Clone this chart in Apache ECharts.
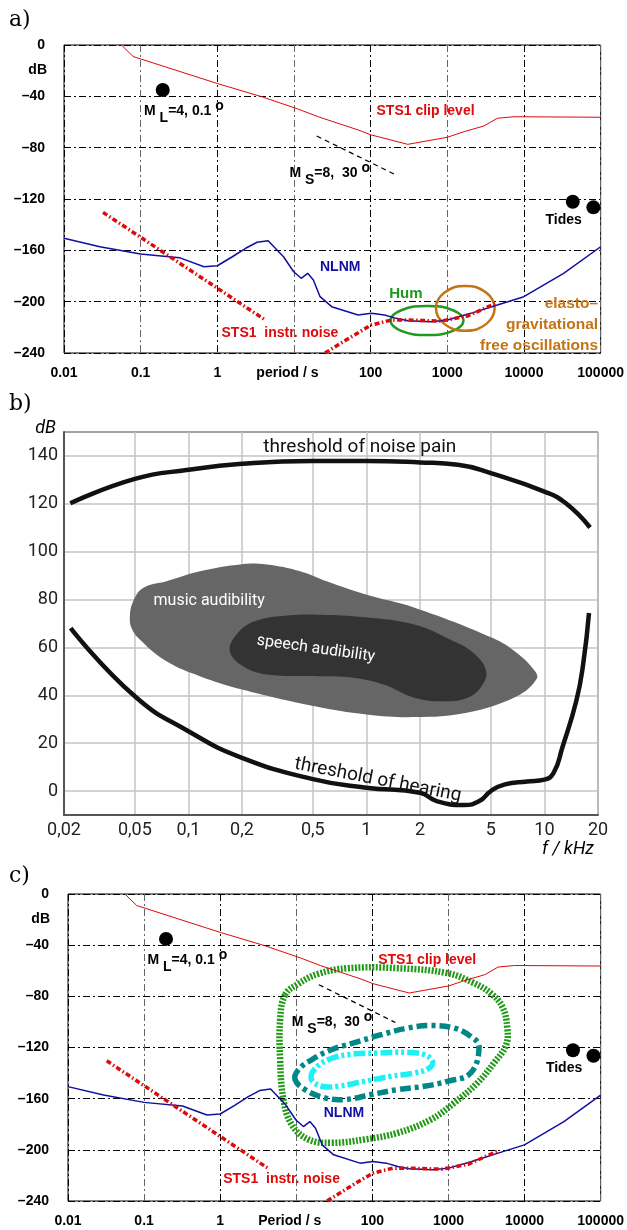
<!DOCTYPE html>
<html>
<head>
<meta charset="utf-8">
<title>Seismic noise and hearing levels</title>
<script src="https://cdn.jsdelivr.net/npm/echarts@6.0.0/dist/echarts.min.js"></script>
<style>body{margin:0;background:#fff;}</style>
</head>
<body>
<div id="main" style="width:627px;height:1230px;"></div>
<script>
// ---------- panels a) and c): period (s) vs level (dB) ----------
var decadeLabelsA = ['0.01', '0.1', '1', 'period / s', '100', '1000', '10000', '100000'];
var decadeLabelsC = ['0.01', '0.1', '1', 'Period / s', '100', '1000', '10000', '100000'];

var clipT  = [0.056, 0.08, 1, 3.8, 11.5, 20.9, 68.7, 102, 305, 1000, 1660, 3000, 4490, 7400, 100000];
var clipDb = [0, -9, -30, -40.3, -50.1, -56, -66.2, -70.1, -77.4, -71.9, -67.5, -63.1, -57.1, -55.9, -56.3];

var nlnmT  = [0.01, 0.0293, 0.1, 0.32, 0.67, 1, 1.57, 2.34, 3.3, 4.6, 7.3, 9.9, 12.4, 15.1, 17.9, 21.9, 31, 68.7, 102, 152, 216, 306, 613, 1008, 2020, 4490, 9960, 32900, 100000];
var nlnmDb = [-150.6, -157.2, -162.9, -165.7, -172.8, -172, -165, -158.4, -153.7, -152.5, -165, -176.7, -181.8, -177.9, -183.1, -196.1, -203.9, -210.4, -209.1, -210.4, -213, -214.8, -215.6, -214.3, -209.1, -202.6, -196.1, -177.9, -157.2];

var noiseShortT  = [0.0323, 4.25];
var noiseShortDb = [-130.4, -214.4];
var noiseLongT  = [25.4, 56, 102, 186, 306, 826, 1832, 4490];
var noiseLongDb = [-240, -227.3, -218.2, -214.3, -214.3, -215.1, -211.2, -200.8];

var msLineT  = [19.8, 201];
var msLineDb = [-70.9, -100.5];

var dotT  = [0.194, 43300, 80400];
var dotDb = [-35.1, -122.1, -126.5];

var humT  = [1626, 1183, 545, 251, 182, 251, 545, 1183];
var humDb = [-214.7, -206.7, -203.4, -206.7, -214.7, -222.7, -226, -222.7];
var freeOscT  = [4140, 3203, 1717, 920, 711, 920, 1717, 3203];
var freeOscDb = [-205.2, -192.9, -187.8, -192.9, -205.2, -217.5, -222.6, -217.5];

var outerT  = [7.14, 10.66, 19.45, 48, 216, 972, 2171, 3575, 5083, 5909, 5735, 3963, 2398, 1189, 588, 216, 79.3, 29, 14.4, 8.7, 6.78, 6.14, 6.14];
var outerDb = [-78.8, -70.2, -62.4, -58, -58, -61.9, -69.7, -77.5, -87.9, -103.5, -117.8, -132.1, -147.7, -163.3, -176.3, -186.7, -191.9, -194.5, -191.9, -180.2, -160.7, -129.5, -98.3];
var midT  = [9.65, 10.66, 15.9, 29, 53, 130.6, 291.6, 588, 1189, 1960, 2522, 1960, 971, 482, 216, 96.7, 43.4, 23.8, 13];
var midDb = [-145.1, -137.4, -129.6, -121.7, -117, -110, -104.8, -102.8, -104.8, -111.3, -119.1, -139.9, -146.4, -150.3, -152.9, -156.8, -160.7, -159.4, -152.9];
var innerT  = [15.9, 17.2, 26.3, 48, 118.3, 291.6, 482, 619, 560, 357, 176.5, 79.3, 35.5, 21.5];
var innerDb = [-145.1, -137.3, -129.5, -125.6, -124.3, -123.8, -125.6, -130.8, -136, -139.9, -142.5, -146.4, -150.3, -150.3];

// ---------- panel b): frequency (kHz) vs level (dB) ----------
var kHzTicks  = [0.02, 0.05, 0.1, 0.2, 0.5, 1, 2, 5, 10, 20];
var kHzLabels = ['0,02', '0,05', '0,1', '0,2', '0,5', '1', '2', '5', '10', '20'];
var dbTicksB  = [0, 20, 40, 60, 80, 100, 120, 140];

var painF  = [0.0217, 0.05, 0.1, 0.2, 0.5, 1, 2, 3.27, 5, 10, 13.2, 18.05];
var painDb = [120.2, 130.4, 134.2, 136.7, 137.9, 137.9, 137.3, 136.3, 132.8, 125.1, 120.2, 110.1];

var hearF  = [0.0218, 0.05, 0.1, 0.2, 0.5, 1, 2, 2.48, 3.54, 4.31, 5, 6, 8, 10, 11.3, 12.6, 15.1, 16.5, 17.8];
var hearDb = [68.1, 39.6, 25, 13.9, 5, 1.4, -0.7, -4.2, -5.8, -4.2, 0, 2.8, 4, 4.8, 7.8, 18.1, 37.6, 52.9, 74.4];

var musicF  = [0.0469, 0.0489, 0.0556, 0.0753, 0.116, 0.2, 0.275, 0.424, 0.598, 0.982, 1.88, 5.13, 7, 8.68, 9.07, 7, 3.66, 1.88, 1, 0.514, 0.2, 0.116, 0.0753, 0.0533, 0.0479];
var musicDb = [73, 79.2, 84.8, 87.6, 91.8, 94.8, 94.6, 91.8, 87.6, 82.2, 76.5, 63.9, 57.7, 50.9, 47, 39.6, 32.7, 30.9, 32, 35.4, 42.4, 48, 54.2, 63.3, 68.1];
var speechF  = [0.171, 0.187, 0.236, 0.372, 0.548, 0.982, 1.88, 2.95, 3.99, 4.71, 4.36, 3.66, 2.83, 1.88, 1.245, 0.809, 0.548, 0.275, 0.203];
var speechDb = [58.4, 65.5, 70.9, 73.4, 73.7, 72.6, 69.5, 63.3, 57.7, 50.1, 43.1, 38.9, 37.5, 38.9, 44.5, 47.5, 48, 48.7, 52.1];

// ---------- helpers ----------
var SANS = 'Liberation Sans';
var RED = '#dd0a0a', NAVY = '#1010a0', GREEN = '#1e9a1e', ORANGE = '#c47414';
var NOISE_DASH = [5, 2.5, 1.5, 2.5];

function pairs(xs, ys) {
    return xs.map(function (x, i) { return [x, ys[i]]; });
}

function curve(gi, xs, ys, color, width, type, smooth) {
    return {
        type: 'line', xAxisIndex: gi, yAxisIndex: gi, data: pairs(xs, ys),
        showSymbol: false, silent: true, smooth: smooth || false,
        lineStyle: { color: color, width: width, type: type || 'solid', opacity: 1 }
    };
}

function loop(gi, xs, ys, style, smooth) {
    var pts = pairs(xs, ys);
    return {
        type: 'custom', xAxisIndex: gi, yAxisIndex: gi, silent: true, data: [pts[0]],
        renderItem: function (params, api) {
            return {
                type: 'polygon',
                shape: { points: pts.map(function (p) { return api.coord(p); }), smooth: smooth },
                style: style
            };
        }
    };
}

function dots(gi) {
    return {
        type: 'scatter', xAxisIndex: gi, yAxisIndex: gi, silent: true,
        data: pairs(dotT, dotDb), symbolSize: 14, itemStyle: { color: '#000', opacity: 1 }
    };
}

var boldTxt = { fontFamily: SANS, fontWeight: 'bold', fontSize: 14, color: '#000' };
var magRich = {
    m: { fontFamily: SANS, fontWeight: 'bold', fontSize: 14, color: '#000' },
    s: { fontFamily: SANS, fontWeight: 'bold', fontSize: 14, color: '#000', padding: [14, 0, 0, 0] },
    o: { fontFamily: SANS, fontWeight: 'bold', fontSize: 14, color: '#000', padding: [0, 0, 10, 0] }
};

function note(x, y, text, style, pos) {
    return {
        value: [x, y],
        label: Object.assign({ show: true, formatter: text, position: pos || 'right', distance: 0 }, style)
    };
}

function notes(gi, items) {
    return {
        type: 'scatter', xAxisIndex: gi, yAxisIndex: gi, silent: true, z: 10,
        symbolSize: 1, itemStyle: { color: 'rgba(255,255,255,0)', opacity: 1 }, data: items
    };
}

function seisNotes(gi, nlnmAt, noiseAt) {
    return notes(gi, [
        note(0.109, -51.4, '{m|M }{s|L}{m|=4, 0.1 }{o|o}', { rich: magRich }),
        note(8.6, -100, '{m|M }{s|S}{m|=8,  30 }{o|o}', { rich: magRich }),
        note(117.5, -51.4, 'STS1 clip level', Object.assign({}, boldTxt, { color: RED })),
        note(nlnmAt[0], nlnmAt[1], 'NLNM', Object.assign({}, boldTxt, { color: NAVY })),
        note(18800, -136.4, 'Tides', boldTxt),
        note(noiseAt[0], noiseAt[1], 'STS1  instr. noise', Object.assign({}, boldTxt, { color: RED }))
    ]);
}

function dbLabel(v) { return v === 0 ? '0' : '\u2013' + (-v); }

function seisAxes(gi, labels) {
    var x = {
        type: 'log', gridIndex: gi, min: 0.01, max: 100000, logBase: 10, splitNumber: 7,
        axisLine: { show: false, onZero: false }, axisTick: { show: false },
        axisLabel: {
            margin: 13, color: '#000', fontFamily: SANS, fontWeight: 'bold', fontSize: 14,
            showMinLabel: true, showMaxLabel: true, hideOverlap: false,
            formatter: function (v) {
                var s = labels[Math.round(Math.log10(v)) + 2];
                return s.indexOf('/') > 0 ? '{p|' + s + '}' : s;
            },
            rich: { p: { fontFamily: SANS, fontWeight: 'bold', fontSize: 14, color: '#000', padding: [0, 13, 0, 0] } }
        },
        splitLine: { show: true, lineStyle: { color: ['#000', '#666'], width: 1, type: [7, 3, 2, 3] } }
    };
    var y = {
        type: 'value', gridIndex: gi, min: -240, max: 0, interval: 40,
        axisLine: { show: false }, axisTick: { show: false },
        axisLabel: { margin: 19, color: '#000', fontFamily: SANS, fontWeight: 'bold', fontSize: 14,
            showMinLabel: true, showMaxLabel: true, formatter: dbLabel },
        splitLine: { show: true, lineStyle: { color: '#000', width: 1, type: [7, 3, 2, 3] } }
    };
    return [x, y];
}

var axA = seisAxes(0, decadeLabelsA);
var axC = seisAxes(2, decadeLabelsC);

var ROBOTO = 'Roboto';
var axBx = {
    type: 'log', gridIndex: 1, min: 0.02, max: 20, logBase: 10,
    axisLine: { show: true, onZero: false, lineStyle: { color: '#555', width: 2 } },
    axisTick: { show: false, customValues: kHzTicks },
    axisLabel: {
        customValues: kHzTicks, margin: 6, color: '#222', fontFamily: ROBOTO, fontSize: 18,
        showMinLabel: true, showMaxLabel: true, hideOverlap: false,
        formatter: function (v) {
            for (var i = 0; i < kHzTicks.length; i++) {
                if (Math.abs(kHzTicks[i] - v) / kHzTicks[i] < 1e-6) return kHzLabels[i];
            }
            return '';
        }
    },
    splitLine: { show: true, lineStyle: { color: '#c4c4c4', width: 1.5 } }
};
var axBy = {
    type: 'value', gridIndex: 1, min: -10, max: 150,
    axisLine: { show: true, onZero: false, lineStyle: { color: '#555', width: 2 } },
    axisTick: { show: false, customValues: dbTicksB },
    axisLabel: { customValues: dbTicksB, margin: 6, color: '#222', fontFamily: ROBOTO, fontSize: 18 },
    splitLine: { show: true, lineStyle: { color: '#c4c4c4', width: 1.5 } }
};

var blackTxt = { fontFamily: ROBOTO, fontSize: 19, color: '#111' };
var whiteTxt = { fontFamily: ROBOTO, fontSize: 16, color: '#fff' };

var series = [
    // a)
    curve(0, clipT, clipDb, RED, 1),
    curve(0, nlnmT, nlnmDb, NAVY, 1.5),
    curve(0, noiseShortT, noiseShortDb, RED, 3.5, NOISE_DASH),
    curve(0, noiseLongT, noiseLongDb, RED, 3.5, NOISE_DASH),
    curve(0, msLineT, msLineDb, '#000', 1.2, [5, 4]),
    loop(0, humT, humDb, { fill: 'none', stroke: GREEN, lineWidth: 2.5 }, 0.45),
    loop(0, freeOscT, freeOscDb, { fill: 'none', stroke: ORANGE, lineWidth: 2.5 }, 0.45),
    dots(0),
    seisNotes(0, [21.5, -173.2], [1.117, -224.2]),
    notes(0, [
        note(171.8, -194, 'Hum', Object.assign({}, boldTxt, { color: GREEN, fontSize: 15 })),
        note(94000, -201.3, 'elasto\u2013', Object.assign({}, boldTxt, { color: ORANGE, fontSize: 15.5 }), 'left'),
        note(94000, -217.6, 'gravitational', Object.assign({}, boldTxt, { color: ORANGE, fontSize: 15.5 }), 'left'),
        note(94000, -234.5, 'free oscillations', Object.assign({}, boldTxt, { color: ORANGE, fontSize: 15.5 }), 'left')
    ]),
    // b)
    loop(1, musicF, musicDb, { fill: '#666666' }, 0.4),
    loop(1, speechF, speechDb, { fill: '#333333' }, 0.4),
    curve(1, painF, painDb, '#111', 4.5, 'solid', 0.5),
    curve(1, hearF, hearDb, '#111', 4.5, 'solid', 0.5),
    notes(1, [
        note(0.262, 143.5, 'threshold of noise pain', blackTxt),
        note(0.0633, 79.2, 'music audibility', whiteTxt),
        note(0.52, 59.4, 'speech audibility', Object.assign({}, whiteTxt, { rotate: -8 }), 'inside'),
        note(1.16, 4.6, 'threshold of hearing', Object.assign({}, blackTxt, { rotate: -11 }), 'inside')
    ]),
    // c)
    curve(2, clipT, clipDb, RED, 1),
    curve(2, nlnmT, nlnmDb, NAVY, 1.5),
    curve(2, noiseShortT, noiseShortDb, RED, 3.5, NOISE_DASH),
    curve(2, noiseLongT, noiseLongDb, RED, 3.5, NOISE_DASH),
    curve(2, msLineT, msLineDb, '#000', 1.2, [5, 4]),
    loop(2, outerT, outerDb, { fill: 'none', stroke: '#229918', lineWidth: 6.5, lineDash: [2, 1.5] }, 0.4),
    loop(2, midT, midDb, { fill: 'none', stroke: '#008888', lineWidth: 5.5, lineDash: [11, 4, 4, 4] }, 0.4),
    loop(2, innerT, innerDb, { fill: 'none', stroke: '#1ef0f5', lineWidth: 5.5, lineDash: [12, 3, 3, 3, 3, 3] }, 0.4),
    dots(2),
    seisNotes(2, [22.6, -171.1], [1.08, -222.6])
];

function txt(x, y, text, font, align) {
    return { type: 'text', x: x, y: y, silent: true,
        style: { text: text, font: font, fill: '#000', textAlign: align || 'left', textVerticalAlign: 'middle',
                 align: align || 'left', verticalAlign: 'middle' } };
}

var option = {
    backgroundColor: '#fff',
    animation: false,
    grid: [
        { left: 64, top: 45, width: 540, height: 308, show: true, borderColor: '#000', borderWidth: 1 },
        { left: 64, top: 432, width: 534, height: 383, show: true, borderColor: '#444', borderWidth: 1 },
        { left: 68, top: 894, width: 536, height: 307, show: true, borderColor: '#000', borderWidth: 1 }
    ],
    xAxis: [axA[0], axBx, axC[0]],
    yAxis: [axA[1], axBy, axC[1]],
    graphic: [
        txt(9, 20, 'a)', '22px "DejaVu Serif"'),
        txt(9, 404, 'b)', '22px "DejaVu Serif"'),
        txt(9, 876, 'c)', '22px "DejaVu Serif"'),
        txt(47, 70, 'dB', 'bold 14px "Liberation Sans"', 'right'),
        txt(50, 919, 'dB', 'bold 14px "Liberation Sans"', 'right'),
        txt(56, 428, 'dB', 'italic 18px Roboto', 'right'),
        txt(594, 849, 'f / kHz', 'italic 18px Roboto', 'right')
    ],
    series: series
};

var myChart = echarts.init(document.getElementById('main'));
myChart.setOption(option);
</script>
</body>
</html>
